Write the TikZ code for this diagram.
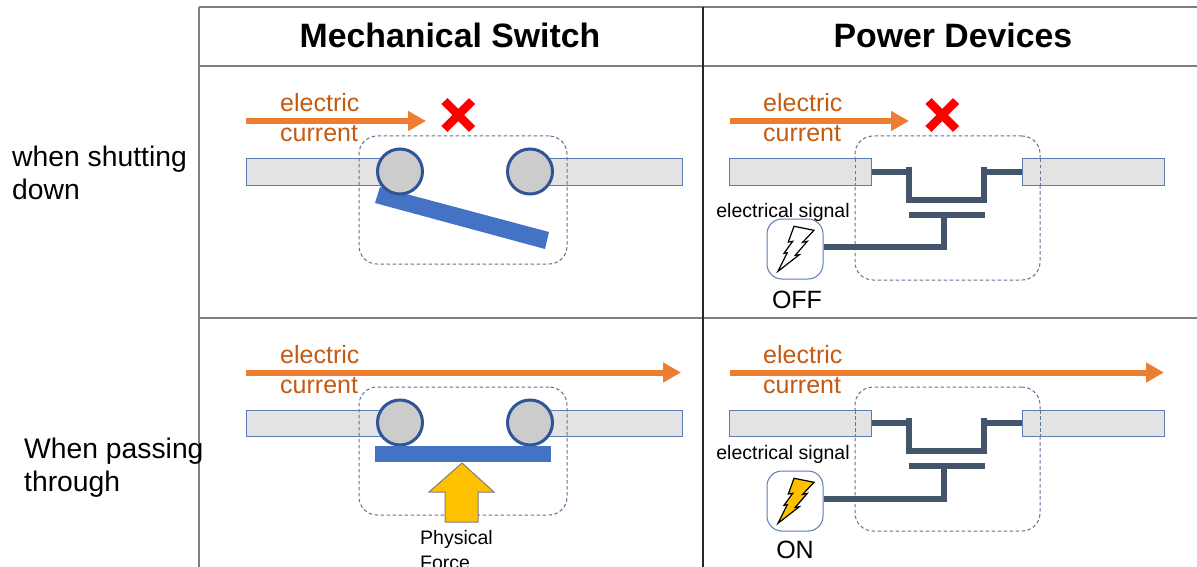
\documentclass[tikz,border=0pt]{standalone}
\usepackage{fontspec}
\setmainfont{Liberation Sans}
\usetikzlibrary{arrows.meta}
\definecolor{gridgray}{HTML}{7F7F7F}
\definecolor{curtext}{HTML}{C55A11}
\definecolor{curline}{HTML}{ED7D31}
\definecolor{barblue}{HTML}{5B7DB1}
\definecolor{ringblue}{HTML}{2F5597}
\definecolor{bladeblue}{HTML}{4472C4}
\definecolor{wirecol}{HTML}{44546A}
\definecolor{dashcol}{HTML}{5F7298}
\definecolor{boltyellow}{HTML}{FFC000}
\tikzset{
	label/.style={inner sep=0pt, anchor=base west, align=left, font=\fontsize{#1}{#1}\selectfont},
	cur/.style={label=25, text=curtext},
	title/.style={inner sep=0pt, anchor=base, font=\fontsize{33.8}{34}\selectfont\bfseries},
	small/.style={inner sep=0pt, anchor=base, font=\fontsize{19.5}{20}\selectfont},
	state/.style={inner sep=0pt, anchor=base, font=\fontsize{25}{25}\selectfont},
	flow/.style={curline, line width=6pt, -{Triangle[length=18pt,width=19pt]}},
	bar/.style={draw=barblue, fill=black!11, line width=1pt, minimum height=26pt, inner sep=0pt},
	zone/.style={draw=dashcol, line width=1pt, dash pattern=on 3.5pt off 2.5pt, rounded corners=18pt, inner sep=0pt},
	contact/.style={circle, draw=ringblue, fill=black!20, line width=3pt, minimum size=45pt, inner sep=0pt},
	wire/.style={wirecol, line width=6pt},
	sigbox/.style={draw=barblue, fill=white, line width=1pt, rounded corners=15pt, minimum width=56pt, minimum height=60pt, inner sep=0pt},
	cross/.style={red, line width=8.5pt},
	bolt/.pic={
		\draw[pic actions, line join=miter] (-1,-22.7) -- (19,-18.7) -- (7.7,-6.7) -- (12.3,-7.7) -- (0.3,6.3) -- (4.3,5.7)
			-- (-17,22.3) -- (-7.7,3.7) -- (-11,4.3) -- (-2.3,-7.7) -- (-6.7,-7) -- cycle;
	}
}
\begin{document}
\begin{tikzpicture}[x=1pt, y=-1pt]
	\clip (0,0) rectangle (1197,567);
	\fill[white] (0,0) rectangle (1197,567);
	%grid
	\draw[gridgray, line width=2pt] (198.5,7) -- (1197,7);
	\draw[gridgray, line width=2pt] (198.5,66) -- (1197,66);
	\draw[gridgray, line width=2pt] (198.5,318) -- (1197,318);
	\draw[gridgray, line width=2pt] (198.5,7) -- (198.5,567);
	\draw[black!85, line width=2pt] (702.5,7) -- (702.5,567);
	%headings
	\node[title] (mech) at (450,48) {Mechanical Switch};
	\node[title] (power) at (953,48) {Power Devices};
	\node[label=28.3] (shut) at (12,167) {when shutting};
	\node[label=28.3] (shutb) at (12,200) {down};
	\node[label=28.3] (pass) at (24,458) {When passing};
	\node[label=28.3] (passb) at (24,491) {through};

	%switch, open
	\node[cur] (ea) at (280,112) {electric};
	\node[cur] (ca) at (280,142) {current};
	\coordinate (fa0) at (246,121);
	\coordinate (fa1) at (426,121);
	\draw[flow] (fa0) -- (fa1);
	\draw[cross] (444.5,101) -- (472,129);
	\draw[cross] (472,101) -- (444.5,129);
	\node[bar, minimum width=154pt] (bara) at (323,172) {};
	\node[bar, minimum width=152pt] (barb) at (606,172) {};
	\node[zone, minimum width=208pt, minimum height=128pt] (zonea) at (463,200) {};
	\fill[bladeblue] (380,187) -- (549,232) -- (545,249) -- (375,203) -- cycle;
	\node[contact] (ka) at (400,171.5) {};
	\node[contact] (kb) at (530,171.5) {};

	%switch, closed
	\node[cur] (eb) at (280,363) {electric};
	\node[cur] (cb) at (280,393) {current};
	\coordinate (fb0) at (246,372.5);
	\coordinate (fb1) at (681,372.5);
	\draw[flow] (fb0) -- (fb1);
	\node[bar, minimum width=154pt] (barc) at (323,423) {};
	\node[bar, minimum width=152pt] (bard) at (606,423) {};
	\node[zone, minimum width=208pt, minimum height=128pt] (zoneb) at (463,451) {};
	\node[contact] (kc) at (400,422.5) {};
	\node[contact] (kd) at (530,422.5) {};
	\fill[bladeblue] (375,446) rectangle (551,462);
	\draw[gridgray, fill=boltyellow, line width=1pt] (462,463) -- (494,492) -- (478,492) -- (478,522) -- (445,522) -- (445,492) -- (429,492) -- cycle;
	\node[small, anchor=base west] (phys) at (420,544) {Physical};
	\node[small, anchor=base west] (force) at (420,569) {Force};

	%device, off
	\node[cur] (ec) at (763,112) {electric};
	\node[cur] (cc) at (763,142) {current};
	\coordinate (fc0) at (730,121);
	\coordinate (fc1) at (909,121);
	\draw[flow] (fc0) -- (fc1);
	\draw[cross] (928.5,101) -- (956,129);
	\draw[cross] (956,101) -- (928.5,129);
	\node[zone, minimum width=185pt, minimum height=144pt] (zonec) at (947.5,208) {};
	\node[bar, minimum width=142pt] (bare) at (800,172) {};
	\node[bar, minimum width=142pt] (barf) at (1093,172) {};
	\draw[draw=dashcol, line width=1pt, dash pattern=on 3.5pt off 2.5pt] (855,159) -- (855,185);
	\draw[draw=dashcol, line width=1pt, dash pattern=on 3.5pt off 2.5pt] (1040,159) -- (1040,185);
	\coordinate (ca1) at (909,172);
	\coordinate (ca2) at (909,167);
	\coordinate (ca3) at (909,200);
	\coordinate (ca4) at (984,200);
	\coordinate (ca5) at (984,167);
	\coordinate (ca6) at (984,172);
	\coordinate (ga1) at (909,215);
	\coordinate (ga2) at (985,215);
	\coordinate (ga3) at (944,215);
	\draw[wire] (bare.east) -- (ca1);
	\draw[wire] (ca2) -- (ca3) -- (ca4) -- (ca5);
	\draw[wire] (ca6) -- (barf.west);
	\draw[wire] (ga1) -- (ga2);
	\node[small] (siga) at (783,217) {electrical signal};
	\node[sigbox] (boxa) at (795,249) {};
	\draw[wire] ([yshift=2pt]boxa.east) -| (ga3);
	\pic[fill=white, draw=black, line width=1.2pt] at (boxa) {bolt};
	\node[state] (off) at (797,308) {OFF};

	%device, on
	\node[cur] (ed) at (763,363) {electric};
	\node[cur] (cd) at (763,393) {current};
	\coordinate (fd0) at (730,372.5);
	\coordinate (fd1) at (1164,372.5);
	\draw[flow] (fd0) -- (fd1);
	\node[zone, minimum width=185pt, minimum height=144pt] (zoned) at (947.5,459) {};
	\node[bar, minimum width=142pt] (barg) at (800,423) {};
	\node[bar, minimum width=142pt] (barh) at (1093,423) {};
	\draw[draw=dashcol, line width=1pt, dash pattern=on 3.5pt off 2.5pt] (855,410) -- (855,436);
	\draw[draw=dashcol, line width=1pt, dash pattern=on 3.5pt off 2.5pt] (1040,410) -- (1040,436);
	\coordinate (cb1) at (909,423);
	\coordinate (cb2) at (909,418);
	\coordinate (cb3) at (909,451);
	\coordinate (cb4) at (984,451);
	\coordinate (cb5) at (984,418);
	\coordinate (cb6) at (984,423);
	\coordinate (gb1) at (909,466);
	\coordinate (gb2) at (985,466);
	\coordinate (gb3) at (944,466);
	\draw[wire] (barg.east) -- (cb1);
	\draw[wire] (cb2) -- (cb3) -- (cb4) -- (cb5);
	\draw[wire] (cb6) -- (barh.west);
	\draw[wire] (gb1) -- (gb2);
	\node[small] (sigb) at (783,459) {electrical signal};
	\node[sigbox] (boxb) at (795,501) {};
	\draw[wire] ([yshift=2pt]boxb.east) -| (gb3);
	\pic[fill=boltyellow, draw=black, line width=1.2pt] at (boxb) {bolt};
	\node[state] (on) at (795,558) {ON};
\end{tikzpicture}
\end{document}
